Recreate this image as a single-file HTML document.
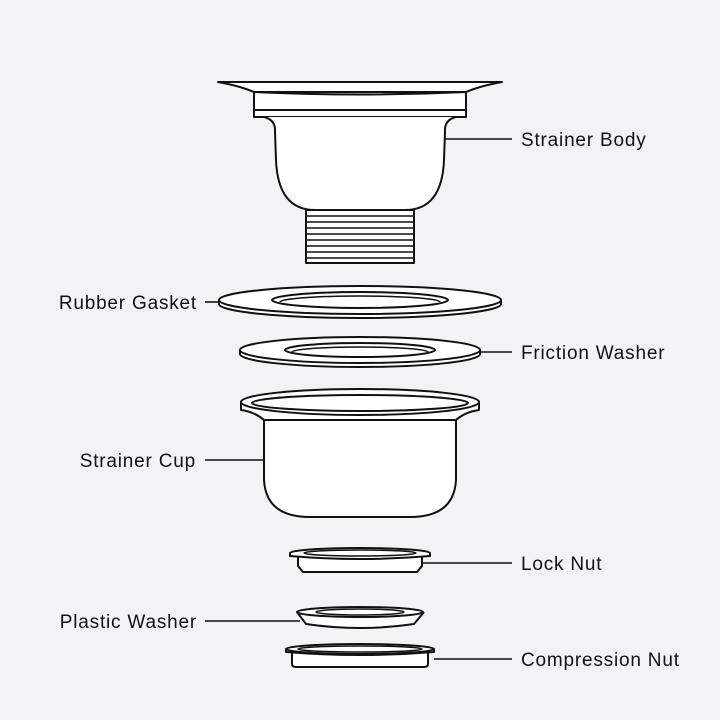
<!DOCTYPE html>
<html><head><meta charset="utf-8"><style>
html,body{margin:0;padding:0;background:#f2f3f5;}
svg{display:block}
text{font-family:"Liberation Sans",sans-serif;font-size:19px;letter-spacing:0.8px;fill:#111;}
</style></head><body>
<svg width="720" height="720" viewBox="0 0 720 720" xmlns="http://www.w3.org/2000/svg">
<rect width="720" height="720" fill="#f2f3f5"/>
<g fill="#fff" stroke="#111" stroke-width="2" stroke-linejoin="round">
<!-- Strainer body -->
<path d="M218,82 L502,82 Q480,86 466,92 L254,92 Q240,86 218,82 Z"/>
<path d="M254,92 Q360,97 466,92 L466,117 L254,117 Z"/>
<line x1="254" y1="110" x2="466" y2="110"/>
<path d="M254,117 L264,117 Q276,120 275,132 L276,160 Q278,210 315,210 L405,210 Q442,210 444,160 L445,132 Q444,120 456,117 L466,117"/>
<path d="M306,210 L414,210 L414,263 L306,263 Z"/>
<g fill="none" stroke-width="1.6">
<line x1="306" y1="216" x2="414" y2="216"/><line x1="306" y1="222" x2="414" y2="222"/>
<line x1="306" y1="228" x2="414" y2="228"/><line x1="306" y1="234" x2="414" y2="234"/>
<line x1="306" y1="240" x2="414" y2="240"/><line x1="306" y1="246" x2="414" y2="246"/>
<line x1="306" y1="252" x2="414" y2="252"/><line x1="306" y1="258" x2="414" y2="258"/>
</g>
<!-- Rubber gasket -->
<path d="M219,300 L219,304 A141,14 0 0 0 501,304 L501,300"/>
<ellipse cx="360" cy="300" rx="141" ry="14"/>
<ellipse cx="360" cy="300" rx="88" ry="8"/>
<path d="M280,302 A80,6 0 0 1 440,302" fill="none" stroke-width="1.5"/>
<!-- Friction washer -->
<path d="M240,350 L240,354 A120,13 0 0 0 480,354 L480,350"/>
<ellipse cx="360" cy="350" rx="120" ry="13"/>
<ellipse cx="360" cy="350" rx="75" ry="7"/>
<path d="M292,352 A68,5 0 0 1 428,352" fill="none" stroke-width="1.5"/>
<!-- Strainer cup -->
<path d="M264,418 L264,480 Q266,517 310,517 L410,517 Q454,517 456,480 L456,418"/>
<path d="M241,402 L241,410 Q255,412 264,420 L456,420 Q465,412 479,410 L479,402"/>
<ellipse cx="360" cy="402" rx="119" ry="13"/>
<ellipse cx="360" cy="403" rx="108" ry="8"/>
<!-- Lock nut -->
<path d="M298,556 L298,566 L303,572 L417,572 L422,566 L422,556"/>
<ellipse cx="360" cy="553" rx="70" ry="5"/>
<path d="M290,553 L290,556 Q360,562 430,556 L430,553"/>
<ellipse cx="360" cy="553" rx="56" ry="3" fill="none" stroke-width="1.5"/>
<!-- Plastic washer -->
<path d="M297,612 L306,624 Q360,632 414,624 L424,612"/>
<ellipse cx="360" cy="612" rx="63" ry="5"/>
<ellipse cx="360" cy="612" rx="44" ry="3" fill="none" stroke-width="1.5"/>
<!-- Compression nut -->
<path d="M292,652 L292,664 Q292,667 296,667 L424,667 Q428,667 428,664 L428,652"/>
<path d="M286,649 L286,652 Q360,658 434,652 L434,649"/>
<ellipse cx="360" cy="649" rx="74" ry="5"/>
<ellipse cx="360" cy="649" rx="62" ry="3" fill="none" stroke-width="1.5"/>
</g>
<g stroke="#111" stroke-width="1.6">
<line x1="445" y1="139" x2="512" y2="139"/>
<line x1="205" y1="302" x2="219" y2="302"/>
<line x1="480" y1="352" x2="512" y2="352"/>
<line x1="205" y1="460" x2="264" y2="460"/>
<line x1="422" y1="563" x2="512" y2="563"/>
<line x1="205" y1="621" x2="300" y2="621"/>
<line x1="434" y1="659" x2="512" y2="659"/>
</g>
<text x="521" y="146">Strainer Body</text>
<text x="197" y="309" text-anchor="end">Rubber Gasket</text>
<text x="521" y="359">Friction Washer</text>
<text x="196" y="467" text-anchor="end">Strainer Cup</text>
<text x="521" y="570">Lock Nut</text>
<text x="197" y="628" text-anchor="end">Plastic Washer</text>
<text x="521" y="666">Compression Nut</text>
</svg>
</body></html>
